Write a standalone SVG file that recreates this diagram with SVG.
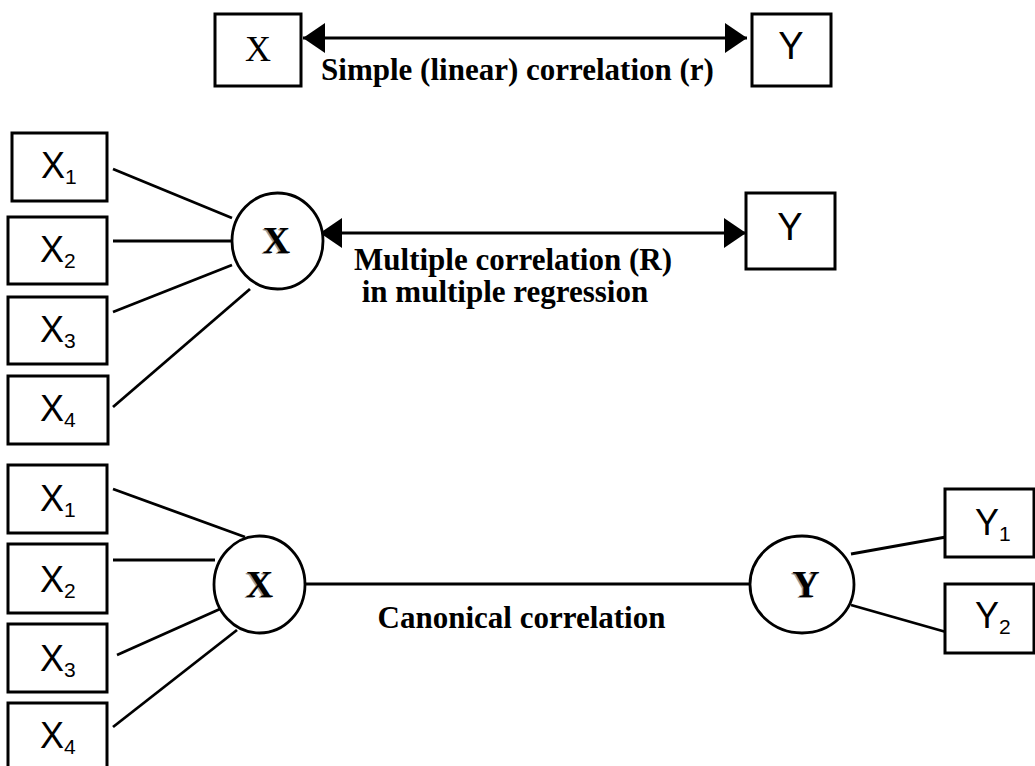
<svg xmlns="http://www.w3.org/2000/svg" width="1035" height="766" viewBox="0 0 1035 766">
<style>
.box{fill:#fff;stroke:#000;stroke-width:3}
.circ{fill:#fff;stroke:#000;stroke-width:2.8}
.ln{stroke:#000;stroke-width:2.8;fill:none}
.lbl{font-family:"Liberation Serif","Times New Roman",serif;font-weight:bold;font-size:31px;text-anchor:middle;fill:#000}
.sans{font-family:"Liberation Sans",Arial,sans-serif;font-size:36px;fill:#000}
.sub{font-size:21px}
.serif{font-family:"Liberation Serif","Times New Roman",serif;font-size:36px;text-anchor:middle;fill:#000}
.big{font-family:"Liberation Serif","Times New Roman",serif;font-weight:bold;font-size:38px;text-anchor:middle}
.shadow{fill:#999}
</style>
<defs>
<marker id="ah" viewBox="0 0 22 30" refX="22" refY="15" markerWidth="22" markerHeight="30" markerUnits="userSpaceOnUse" orient="auto-start-reverse">
<path d="M0,0 L22,15 L0,30 z" fill="#000"/>
</marker>
</defs>
<rect width="1035" height="766" fill="#fff"/>
<g id="connectors">
<line class="ln" x1="303" y1="38" x2="747" y2="38" marker-start="url(#ah)" marker-end="url(#ah)"/>
<line class="ln" x1="320" y1="233" x2="746" y2="233" marker-start="url(#ah)" marker-end="url(#ah)"/>
<line class="ln" x1="113" y1="169" x2="232" y2="218"/>
<line class="ln" x1="113" y1="241" x2="232" y2="241"/>
<line class="ln" x1="113" y1="312" x2="232" y2="265"/>
<line class="ln" x1="113" y1="407" x2="250" y2="289"/>
<line class="ln" x1="113" y1="489" x2="245" y2="537"/>
<line class="ln" x1="113" y1="560" x2="215" y2="560"/>
<line class="ln" x1="117" y1="655" x2="220" y2="609"/>
<line class="ln" x1="113" y1="727" x2="237" y2="630"/>
<line class="ln" x1="305" y1="584" x2="750" y2="584"/>
<line class="ln" x1="851" y1="554" x2="946" y2="537"/>
<line class="ln" x1="851" y1="605" x2="946" y2="632"/>
<text class="lbl" x="517.5" y="80">Simple (linear) correlation (r)</text>
<text class="lbl" x="513" y="270">Multiple correlation (R)</text>
<text class="lbl" x="505" y="302">in multiple regression</text>
<text class="lbl" x="521.5" y="628">Canonical correlation</text>
</g>
<g id="top-x"><rect class="box" x="215" y="14" width="86" height="72"/><text class="serif" x="258" y="61">X</text></g>
<g id="top-y"><rect class="box" x="752" y="14" width="79" height="72"/><text class="sans" x="791" y="59" text-anchor="middle" style="font-size:38px">Y</text></g>
<g id="m-x1"><rect class="box" x="12" y="133" width="95" height="68"/><text class="sans" x="41" y="178">X<tspan class="sub" dy="6">1</tspan></text></g>
<g id="m-x2"><rect class="box" x="8" y="217" width="99" height="67"/><text class="sans" x="40" y="262">X<tspan class="sub" dy="6">2</tspan></text></g>
<g id="m-x3"><rect class="box" x="8" y="297" width="99" height="67"/><text class="sans" x="40" y="342">X<tspan class="sub" dy="6">3</tspan></text></g>
<g id="m-x4"><rect class="box" x="8" y="376" width="100" height="68"/><text class="sans" x="40" y="421">X<tspan class="sub" dy="6">4</tspan></text></g>
<g id="m-xc"><ellipse class="circ" cx="277.5" cy="241" rx="45.5" ry="48"/><text class="big shadow" x="275" y="254">X</text><text class="big" x="276.5" y="253">X</text></g>
<g id="m-y"><rect class="box" x="746" y="193" width="89" height="76"/><text class="sans" x="790" y="240" text-anchor="middle" style="font-size:38px">Y</text></g>
<g id="b-x1"><rect class="box" x="8" y="465" width="99" height="68"/><text class="sans" x="40" y="511">X<tspan class="sub" dy="6">1</tspan></text></g>
<g id="b-x2"><rect class="box" x="8" y="544" width="99" height="69"/><text class="sans" x="40" y="592">X<tspan class="sub" dy="6">2</tspan></text></g>
<g id="b-x3"><rect class="box" x="8" y="624" width="99" height="68"/><text class="sans" x="40" y="671">X<tspan class="sub" dy="6">3</tspan></text></g>
<g id="b-x4"><rect class="box" x="8" y="703" width="99" height="70"/><text class="sans" x="40" y="748">X<tspan class="sub" dy="6">4</tspan></text></g>
<g id="b-xc"><ellipse class="circ" cx="259.5" cy="584.5" rx="45.5" ry="48.5"/><text class="big shadow" x="258" y="598">X</text><text class="big" x="259.5" y="597">X</text></g>
<g id="b-yc"><ellipse class="circ" cx="802" cy="584.5" rx="52" ry="48.5"/><text class="big shadow" x="804.5" y="598">Y</text><text class="big" x="806" y="597">Y</text></g>
<g id="b-y1"><rect class="box" x="945" y="489" width="89" height="68"/><text class="sans" x="975" y="535">Y<tspan class="sub" dy="6">1</tspan></text></g>
<g id="b-y2"><rect class="box" x="945" y="584" width="89" height="69"/><text class="sans" x="975" y="628">Y<tspan class="sub" dy="6">2</tspan></text></g>
</svg>
